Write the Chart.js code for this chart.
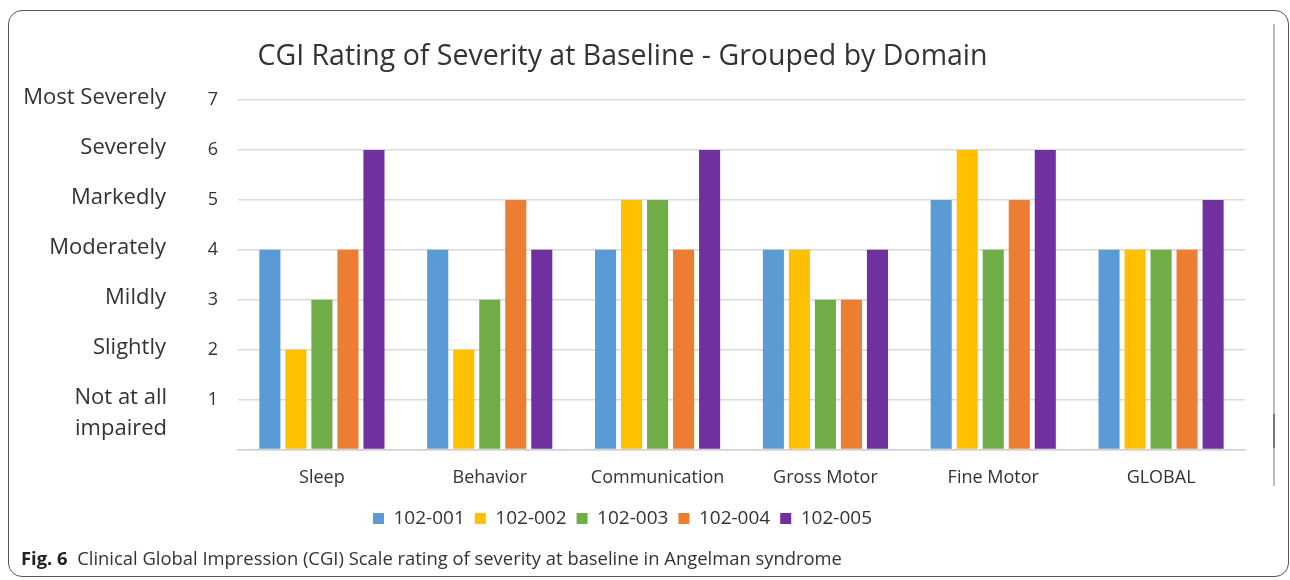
<!DOCTYPE html>
<html>
<head>
<meta charset="utf-8">
<script src="https://cdn.jsdelivr.net/npm/chart.js@4/dist/chart.umd.min.js"></script>
<style>
  html, body { margin: 0; padding: 0; background: #fff; }
  #wrap { position: relative; width: 1290px; height: 580px; overflow: hidden; }
  #frame { position: absolute; left: 8px; top: 10px; width: 1281px; height: 567px; border: 1.5px solid #555; border-radius: 14px; box-sizing: border-box; }
  #vline { position: absolute; left: 1273px; top: 24px; width: 2px; height: 462px; background: #bbb; }
  #vdark { position: absolute; left: 1273px; top: 414px; width: 2px; height: 34px; background: #777; }
  #chartbox { position: absolute; left: 0; top: 0; width: 1290px; height: 580px; }
  #caption { position: absolute; left: 21px; top: 545px; font-family: "Open Sans", "Noto Sans", sans-serif; font-size: 18.4px; color: #333; white-space: nowrap; }
  #caption b { font-weight: 700; color: #222; }
</style>
</head>
<body>
<div id="wrap">
  <div id="frame"></div>
  <div id="vline"></div>
  <div id="vdark"></div>
  <div id="chartbox"><canvas id="c"></canvas></div>
  <div id="caption"><b>Fig. 6</b>&nbsp; Clinical Global Impression (CGI) Scale rating of severity at baseline in Angelman syndrome</div>
</div>
<script>
const categories = ["Sleep", "Behavior", "Communication", "Gross Motor", "Fine Motor", "GLOBAL"];
const seriesNames = ["102-001", "102-002", "102-003", "102-004", "102-005"];
const s001 = [4, 4, 4, 4, 5, 4];
const s002 = [2, 2, 5, 4, 6, 4];
const s003 = [3, 3, 5, 3, 4, 4];
const s004 = [4, 5, 4, 3, 5, 4];
const s005 = [6, 4, 6, 4, 6, 5];
const severityWords = ["", ["Not at all", "impaired"], "Slightly", "Mildly", "Moderately", "Markedly", "Severely", "Most Severely"];
const colors = ["#5B9BD5", "#FFC000", "#70AD47", "#ED7D31", "#7030A0"];
const seriesData = [s001, s002, s003, s004, s005];

const FONT = '"Open Sans", "Noto Sans", sans-serif';

const wordsPlugin = {
  id: 'severityWords',
  afterDraw(chart) {
    const y = chart.scales.y;
    const ctx = chart.ctx;
    ctx.save();
    ctx.font = '22px ' + FONT;
    ctx.fillStyle = '#333';
    ctx.textAlign = 'right';
    ctx.textBaseline = 'middle';
    severityWords.forEach((w, v) => {
      if (!w) return;
      const py = y.getPixelForValue(v) - 2;
      if (Array.isArray(w)) {
        w.forEach((line, i) => ctx.fillText(line, 167, py + i * 31));
      } else {
        ctx.fillText(w, 166, py);
      }
    });
    ctx.restore();
  }
};

new Chart(document.getElementById('c'), {
  type: 'bar',
  data: {
    labels: categories,
    datasets: seriesNames.map((n, i) => ({
      label: n,
      data: seriesData[i],
      backgroundColor: colors[i],
      borderWidth: 0,
      categoryPercentage: 0.775,
      barPercentage: 0.81
    }))
  },
  options: {
    responsive: true,
    maintainAspectRatio: false,
    animation: false,
    layout: { padding: { top: 40, right: 45, bottom: 42, left: 0 } },
    plugins: {
      title: {
        display: true,
        text: 'CGI Rating of Severity at Baseline - Grouped by Domain',
        font: { family: FONT, size: 28.5, weight: 'normal' },
        color: '#333',
        padding: { top: 0, bottom: 26 }
      },
      legend: {
        position: 'bottom',
        labels: {
          font: { family: FONT, size: 19 },
          color: '#333',
          boxWidth: 11,
          boxHeight: 11,
          padding: 10
        }
      },
      tooltip: { enabled: false }
    },
    scales: {
      x: {
        grid: { display: false },
        border: { color: '#d0d0d0', width: 1.5 },
        ticks: { font: { family: FONT, size: 18 }, color: '#333', padding: 10 }
      },
      y: {
        min: 0, max: 7,
        afterFit(scale) { scale.width = 238; },
        grid: { color: '#d9d9d9', drawTicks: false, lineWidth: 1.5 },
        border: { display: false },
        ticks: {
          stepSize: 1,
          padding: 20,
          font: { family: FONT, size: 18 },
          color: '#333',
          callback: (v) => v === 0 ? '' : v
        }
      }
    }
  },
  plugins: [wordsPlugin]
});
</script>
</body>
</html>
